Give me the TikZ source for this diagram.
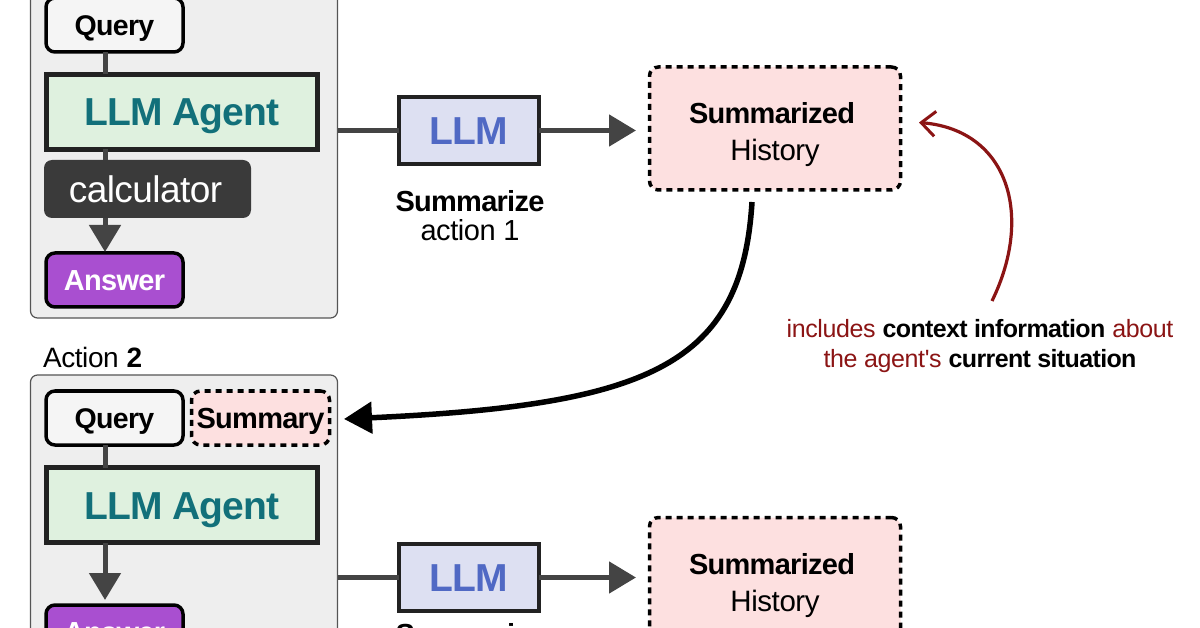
\documentclass[tikz,border=0pt]{standalone}
\usepackage{fontspec}
\setmainfont{Liberation Sans}
\newfontfamily\tightbf[LetterSpace=-2.5,BoldFont={Liberation Sans Bold}]{Liberation Sans}
\newfontfamily\tightrm[LetterSpace=-1.5]{Liberation Sans}
\newcommand{\fsz}[1]{\fontsize{#1}{#1}\selectfont}
\newcommand{\BB}[1]{{\tightbf\bfseries #1}}
\newcommand{\RR}[1]{{\tightrm #1}}
\usetikzlibrary{arrows.meta,calc}
\definecolor{panel}{HTML}{EEEEEE}
\definecolor{panelline}{HTML}{555555}
\definecolor{conn}{HTML}{444444}
\definecolor{agentfill}{HTML}{DFF1DF}
\definecolor{agenttext}{HTML}{12707A}
\definecolor{agentline}{HTML}{222222}
\definecolor{toolfill}{HTML}{3A3A3A}
\definecolor{answerfill}{HTML}{A94FD0}
\definecolor{llmfill}{HTML}{DDE0F2}
\definecolor{llmtext}{HTML}{5069C4}
\definecolor{pinkfill}{HTML}{FDE0E0}
\definecolor{darkred}{HTML}{8B1414}
\tikzset{
  x=1pt,y=-1pt,
  every node/.style={inner sep=0pt,outer sep=0pt,align=center},
  capmid/.style={text height=#1,text depth=0pt},
  panelbox/.style={draw=panelline,line width=1.2pt,fill=panel,rounded corners=7pt,minimum width=307pt},
  querybox/.style={capmid=20.5pt,draw=black,line width=3.5pt,fill=white!96!black,rounded corners=9pt,minimum width=137pt,minimum height=54pt,font=\fsz{28.5}},
  agentbox/.style={capmid=28pt,draw=agentline,line width=5pt,fill=agentfill,minimum width=271pt,minimum height=75pt,text=agenttext,font=\fsz{39}},
  toolbox/.style={capmid=26.6pt,fill=toolfill,rounded corners=8pt,minimum width=207pt,minimum height=58pt,text=white,font=\fsz{37}},
  answerbox/.style={capmid=21pt,draw=black,line width=3.5pt,fill=answerfill,rounded corners=9pt,minimum width=137pt,minimum height=54pt,text=white,font=\fsz{29}},
  llmbox/.style={capmid=28pt,draw=agentline,line width=4.5pt,fill=llmfill,minimum width=140pt,minimum height=67pt,text=llmtext,font=\fsz{39}},
  dashbox/.style={draw=black,line width=3.5pt,dash pattern=on 6pt off 5pt,fill=pinkfill,rounded corners=9pt},
  conn/.style={draw=conn,line width=5pt},
  connarrow/.style={conn,-{Triangle[length=27pt,width=31pt]}},
  lab/.style={capmid=21pt,font=\fsz{29}},
  note/.style={capmid=18pt,font=\fsz{25},text=darkred}
}
\begin{document}
\begin{tikzpicture}
\useasboundingbox (0,0) rectangle (1200,628);
\clip (0,0) rectangle (1200,628);
\coordinate (cx) at (105,0);
% panels
\node[panelbox,minimum height=336pt] (p1) at (184,150) {};
\node[panelbox,minimum height=336pt] (p2) at (184,543) {};
\node[anchor=west,capmid=20pt,font=\fsz{28}] (act2) at (43,357) {\RR{Action} \BB{2}};
% action 1
\node[querybox] (q1) at (114.5,25) {\BB{Query}};
\node[agentbox] (a1) at (182,112) {\BB{LLM Agent}};
\node[toolbox] (t1) at (147.5,189) {\RR{calculator}\hspace*{4pt}};
\node[answerbox] (r1) at (114.5,280) {\BB{Answer}};
\draw[conn] (q1.south -| cx) -- (a1.north -| cx);
\draw[conn] (a1.south -| cx) -- (t1.north -| cx);
\draw[connarrow] (t1.south -| cx) -- ($(r1.north -| cx)+(0,-1)$);
% action 2
\node[querybox] (q2) at (114.5,418) {\BB{Query}};
\node[dashbox,capmid=21pt,minimum width=138pt,minimum height=54pt,font=\fsz{29}] (s2) at (260.5,418) {\BB{Summary}};
\node[agentbox] (a2) at (182,505) {\BB{LLM Agent}};
\node[answerbox] (r2) at (114.5,632) {\BB{Answer}};
\draw[conn] (q2.south -| cx) -- (a2.north -| cx);
\draw[connarrow] (a2.south -| cx) -- ($(r2.north -| cx)+(0,-5)$);
% LLM 1
\node[llmbox] (l1) at (469,130.5) {\BB{LLM}};
\node[lab] (sm1) at (470,201) {\BB{Summarize}};
\node[lab] (ac1) at (470,230) {\RR{action 1}};
\node[dashbox,minimum width=251pt,minimum height=123pt] (h1) at (775,128.5) {};
\node[lab] (ht1) at (772,113) {\BB{Summarized}};
\node[capmid=21pt,font=\fsz{29.5}] (hs1) at (775,150) {\RR{History}};
\draw[conn] (p1.east |- l1.west) -- (l1.west);
\draw[connarrow] (l1.east) -- ($(l1.east)+(97,0)$);
% LLM 2
\node[llmbox] (l2) at (469,577.5) {\BB{LLM}};
\node[lab] (sm2) at (470,634) {\BB{Summarize}};
\node[dashbox,minimum width=251pt,minimum height=123pt] (h2) at (775,579) {};
\node[lab] (ht2) at (772,564) {\BB{Summarized}};
\node[capmid=21pt,font=\fsz{29.5}] (hs2) at (775,601) {\RR{History}};
\draw[conn] (p2.east |- l2.west) -- (l2.west);
\draw[connarrow] (l2.east) -- ($(l2.east)+(97,0)$);
% annotation
\node[note] (n1) at (980,329) {\RR{includes} \textcolor{black}{\BB{context information}} \RR{about}};
\node[note] (n2) at (980,358) {\RR{the agent's} \textcolor{black}{\BB{current situation}}};
\coordinate (redstart) at (992,301);
\coordinate (redend) at (919,122.5);
\draw[darkred,line width=3.2pt,-{Straight Barb[length=14pt,width=25pt,line width=3pt]}] (redstart) .. controls (1034,215) and (1008,130) .. (redend);
% black curve
\coordinate (bstart) at (752,202);
\coordinate (btip) at (344,419);
\draw[black,line width=5.5pt,-{Triangle[length=28pt,width=31pt]}] (bstart) .. controls (742,365) and (650,405) .. (btip);
\end{tikzpicture}
\end{document}
